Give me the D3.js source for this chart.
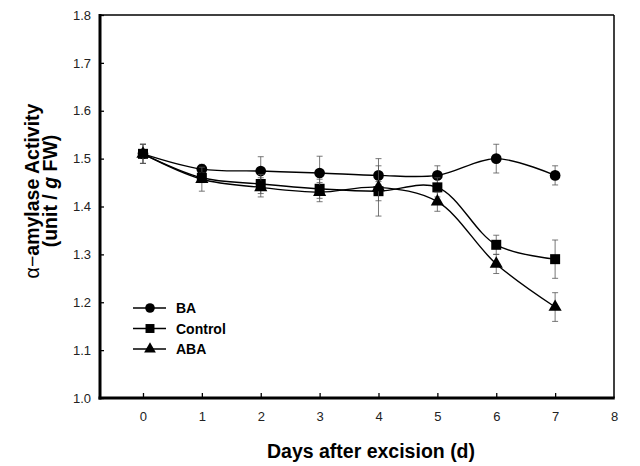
<!DOCTYPE html>
<html>
<head>
<meta charset="utf-8">
<title>alpha-amylase activity</title>
<script src="https://cdn.jsdelivr.net/npm/d3@7"></script>
<style>
body { margin: 0; background: #fff; }
text { font-family: "Liberation Sans", Arial, sans-serif; }
</style>
</head>
<body>
<script>
// data
var days = [0, 1, 2, 3, 4, 5, 6, 7];
var baVals = [1.51, 1.478, 1.474, 1.47, 1.465, 1.465, 1.50, 1.465];
var baErr = [0.02, 0.01, 0.03, 0.035, 0.02, 0.02, 0.03, 0.02];
var ctlVals = [1.51, 1.46, 1.447, 1.437, 1.432, 1.44, 1.32, 1.29];
var ctlErr = [0.02, 0.01, 0.02, 0.02, 0.02, 0.02, 0.02, 0.04];
var abaVals = [1.51, 1.457, 1.44, 1.43, 1.44, 1.41, 1.28, 1.19];
var abaErr = [0.02, 0.025, 0.02, 0.02, 0.06, 0.02, 0.02, 0.03];
var seriesNames = ["BA", "Control", "ABA"];
var xTicks = [0, 1, 2, 3, 4, 5, 6, 7, 8];
var yTicks = [1.0, 1.1, 1.2, 1.3, 1.4, 1.5, 1.6, 1.7, 1.8];

var width = 640, height = 466;
var pL = 100, pR = 614, pT = 15, pB = 398;   // plot box

var svg = d3.select("body").append("svg")
  .attr("width", width)
  .attr("height", height);

var x = d3.scaleLinear().domain([-0.73, 8]).range([pL, pR]);
var y = d3.scaleLinear().domain([1.0, 1.8]).range([pB, pT]);

// axes
var xAxis = d3.axisBottom(x).tickValues(xTicks).tickSize(-5).tickPadding(14).tickFormat(d3.format("d"));
var yAxis = d3.axisLeft(y).tickValues(yTicks).tickSize(-4).tickPadding(9).tickFormat(d3.format(".1f"));

var gx = svg.append("g").attr("transform", "translate(0," + pB + ")").call(xAxis);
var gy = svg.append("g").attr("transform", "translate(" + pL + ",0)").call(yAxis);
[gx, gy].forEach(function(g) {
  g.select(".domain").remove();
  g.selectAll("text").attr("font-size", 13).attr("fill", "#222");
  g.selectAll("line").attr("stroke", "#000").attr("stroke-width", 1.3);
});
gx.selectAll(".tick").filter(function(d) { return d == 8; }).select("line").remove();

// frame
svg.append("line").attr("x1", pL).attr("x2", pR).attr("y1", pT).attr("y2", pT)
  .attr("stroke", "#000").attr("stroke-width", 1.5);
svg.append("line").attr("x1", pR).attr("x2", pR).attr("y1", pT).attr("y2", pB)
  .attr("stroke", "#000").attr("stroke-width", 1.5);
svg.append("line").attr("x1", pL).attr("x2", pL).attr("y1", pT - 1).attr("y2", pB + 1.5)
  .attr("stroke", "#000").attr("stroke-width", 3);
svg.append("line").attr("x1", pL - 1.5).attr("x2", pR + 0.75).attr("y1", pB).attr("y2", pB)
  .attr("stroke", "#000").attr("stroke-width", 3);

var series = [
  { name: seriesNames[0], vals: baVals, err: baErr, shape: d3.symbolCircle, size: 90 },
  { name: seriesNames[1], vals: ctlVals, err: ctlErr, shape: d3.symbolSquare, size: 100 },
  { name: seriesNames[2], vals: abaVals, err: abaErr, shape: d3.symbolTriangle, size: 75 }
];

var line = d3.line()
  .x(function(d) { return x(d[0]); })
  .y(function(d) { return y(d[1]); })
  .curve(d3.curveCatmullRom.alpha(0.5));

series.forEach(function(s) {
  var pts = days.map(function(d, i) { return [d, s.vals[i], s.err[i]]; });
  var g = svg.append("g");
  // error bars
  var eb = g.selectAll(".eb").data(pts).enter().append("g");
  eb.append("line")
    .attr("x1", function(d) { return x(d[0]); }).attr("x2", function(d) { return x(d[0]); })
    .attr("y1", function(d) { return y(d[1] - d[2]); }).attr("y2", function(d) { return y(d[1] + d[2]); })
    .attr("stroke", "#555").attr("stroke-width", 0.8);
  [1, -1].forEach(function(sg) {
    eb.append("line")
      .attr("x1", function(d) { return x(d[0]) - 3; }).attr("x2", function(d) { return x(d[0]) + 3; })
      .attr("y1", function(d) { return y(d[1] + sg * d[2]); }).attr("y2", function(d) { return y(d[1] + sg * d[2]); })
      .attr("stroke", "#555").attr("stroke-width", 0.8);
  });
  g.append("path").datum(pts).attr("d", line)
    .attr("fill", "none").attr("stroke", "#000").attr("stroke-width", 1.4);
  g.selectAll(".pt").data(pts).enter().append("path")
    .attr("transform", function(d) { return "translate(" + x(d[0]) + "," + y(d[1]) + ")"; })
    .attr("d", d3.symbol().type(s.shape).size(s.size))
    .attr("fill", "#000");
});

// legend
var leg = svg.append("g").attr("transform", "translate(133,308)");
series.forEach(function(s, i) {
  var r = leg.append("g").attr("transform", "translate(0," + (i * 20.5) + ")");
  r.append("line").attr("x1", 0).attr("x2", 33).attr("stroke", "#000").attr("stroke-width", 1.3);
  r.append("path").attr("transform", "translate(17,0)")
    .attr("d", d3.symbol().type(s.shape).size(s.size * 0.8)).attr("fill", "#000");
  r.append("text").attr("x", 43).attr("y", 5).attr("font-size", 14).attr("font-weight", "bold")
    .text(s.name);
});

// axis titles
svg.append("text").attr("x", 371).attr("y", 458).attr("text-anchor", "middle")
  .attr("font-size", 19.5).attr("font-weight", "bold").text("Days after excision (d)");

var yt = svg.append("g").attr("transform", "translate(0,191) rotate(-90)");
yt.append("text").attr("x", 0).attr("y", 39).attr("text-anchor", "middle")
  .attr("font-size", 19.5).attr("font-weight", "bold")
  .call(function(t) {
    t.append("tspan").attr("font-weight", "normal").text("α−");
    t.append("tspan").text("amylase Activity");
  });
yt.append("text").attr("x", 0).attr("y", 57).attr("text-anchor", "middle")
  .attr("font-size", 19.5).attr("font-weight", "bold")
  .call(function(t) {
    t.append("tspan").text("(unit / ");
    t.append("tspan").attr("font-style", "italic").text("g");
    t.append("tspan").text(" FW)");
  });
</script>
</body>
</html>
